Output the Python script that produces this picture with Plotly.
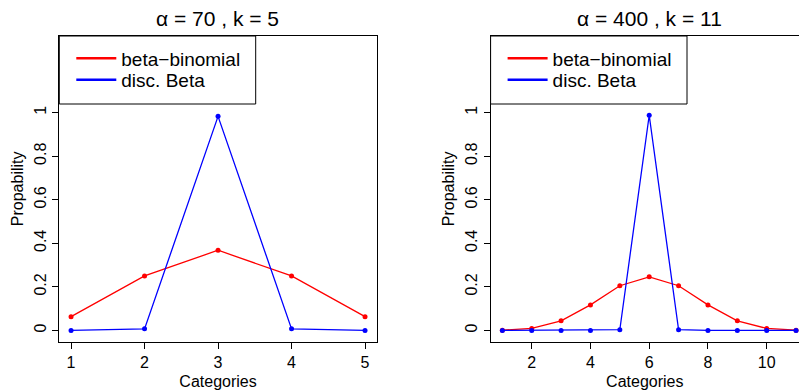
import plotly.graph_objects as go

# ---- data ----
cats_left = [1, 2, 3, 4, 5]
betabin_left = [0.063, 0.25, 0.368, 0.25, 0.063]
discbeta_left = [0.0, 0.007, 0.983, 0.007, 0.0]

cats_right = [1, 2, 3, 4, 5, 6, 7, 8, 9, 10, 11]
betabin_right = [0.001, 0.009, 0.044, 0.117, 0.205, 0.246, 0.205, 0.117, 0.044, 0.009, 0.001]
discbeta_right = [0.0, 0.0, 0.0, 0.0, 0.003, 0.988, 0.003, 0.0, 0.0, 0.0, 0.0]

y_ticks = [0, 0.2, 0.4, 0.6, 0.8, 1]
y_ticklabels = ["0", "0.2", "0.4", "0.6", "0.8", "1"]
x_ticks_left = [1, 2, 3, 4, 5]
x_ticks_right = [2, 4, 6, 8, 10]

titles = ["α = 70 , k = 5", "α = 400 , k = 11"]
series_names = ["beta−binomial", "disc. Beta"]
colors = ["#ff0000", "#0000ff"]

FONT = "Liberation Sans, Arial, sans-serif"
W, H = 799, 392

fig = go.Figure()

def px_x(p):
    return p / W

def px_y(p):
    return 1 - p / H

box_top, box_bot = 36.0, 341.7
ydom = [px_y(box_bot), px_y(box_top)]
yrange = [-0.052, 1.352]
left_box_l, right_box_l = 59.3, 490.6
legend_w, legend_h = 196.4, 68.0
entry_tops = [box_top + 3.5, box_top + 25.0]   # one single-entry legend per series

legend_common = dict(
    xanchor="left", yanchor="top", borderwidth=0, bgcolor="rgba(0,0,0,0)",
    font=dict(family=FONT, size=19, color="black"), itemwidth=40, tracegroupgap=0,
)

panels = [
    (cats_left, betabin_left, discbeta_left, "x", "y", left_box_l),
    (cats_right, betabin_right, discbeta_right, "x2", "y2", right_box_l),
]
legend_layout = {}
lg_idx = 1
for cats, bb, db, xa, ya, bl in panels:
    for vals, name, col in [(bb, series_names[0], colors[0]), (db, series_names[1], colors[1])]:
        fig.add_trace(go.Scatter(
            x=cats, y=vals, mode="lines+markers", xaxis=xa, yaxis=ya,
            line=dict(color=col, width=1.3), marker=dict(color=col, size=5),
            showlegend=False, cliponaxis=False,
        ))
    for name, col, top in zip(series_names, colors, entry_tops):
        lg = "legend" if lg_idx == 1 else f"legend{lg_idx}"
        fig.add_trace(go.Scatter(
            x=[None], y=[None], mode="lines", xaxis=xa, yaxis=ya,
            line=dict(color=col, width=2.5), name=name, legend=lg,
        ))
        legend_layout[lg] = dict(x=px_x(bl + 12), y=px_y(top), **legend_common)
        lg_idx += 1

axis_common = dict(
    showgrid=False, zeroline=False, showline=True, linecolor="black", linewidth=1,
    ticks="outside", ticklen=6, tickcolor="black", tickwidth=1,
    tickfont=dict(family=FONT, size=16, color="black"),
)

fig.update_layout(
    width=W, height=H, margin=dict(l=0, r=0, t=0, b=0),
    paper_bgcolor="white", plot_bgcolor="white",
    font=dict(family=FONT, color="black"),
    xaxis=dict(domain=[px_x(left_box_l), px_x(376.8)], range=[0.84, 5.16], anchor="y",
               tickvals=x_ticks_left, mirror=True,
               title=dict(text="Categories", font=dict(size=16), standoff=5), **axis_common),
    yaxis=dict(domain=ydom, range=yrange, anchor="x", tickvals=y_ticks, ticktext=y_ticklabels,
               tickangle=-90, mirror=True,
               title=dict(text="Propability", font=dict(size=16), standoff=4), **axis_common),
    xaxis2=dict(domain=[px_x(right_box_l), 1.0], range=[0.6, 11.1], anchor="y2",
                tickvals=x_ticks_right, mirror=True,
                title=dict(text="Categories", font=dict(size=16), standoff=5), **axis_common),
    yaxis2=dict(domain=ydom, range=yrange, anchor="x2", tickvals=y_ticks, ticktext=y_ticklabels,
                tickangle=-90, mirror=False,
                title=dict(text="Propability", font=dict(size=16), standoff=4), **axis_common),
    **legend_layout,
)

# legend frames (R-style legend box at top-left of each panel)
for bl in [left_box_l, right_box_l]:
    fig.add_shape(type="rect", xref="paper", yref="paper",
                  x0=px_x(bl), x1=px_x(bl + legend_w),
                  y0=px_y(box_top + legend_h), y1=px_y(box_top),
                  line=dict(color="black", width=1), fillcolor="white", layer="above")

for t, cx in zip(titles, [218.0, 649.4]):
    fig.add_annotation(text=t, x=px_x(cx), y=px_y(18), xref="paper", yref="paper",
                       xanchor="center", yanchor="middle", showarrow=False,
                       font=dict(family=FONT, size=21, color="black"))

fig.write_html("out.html")
